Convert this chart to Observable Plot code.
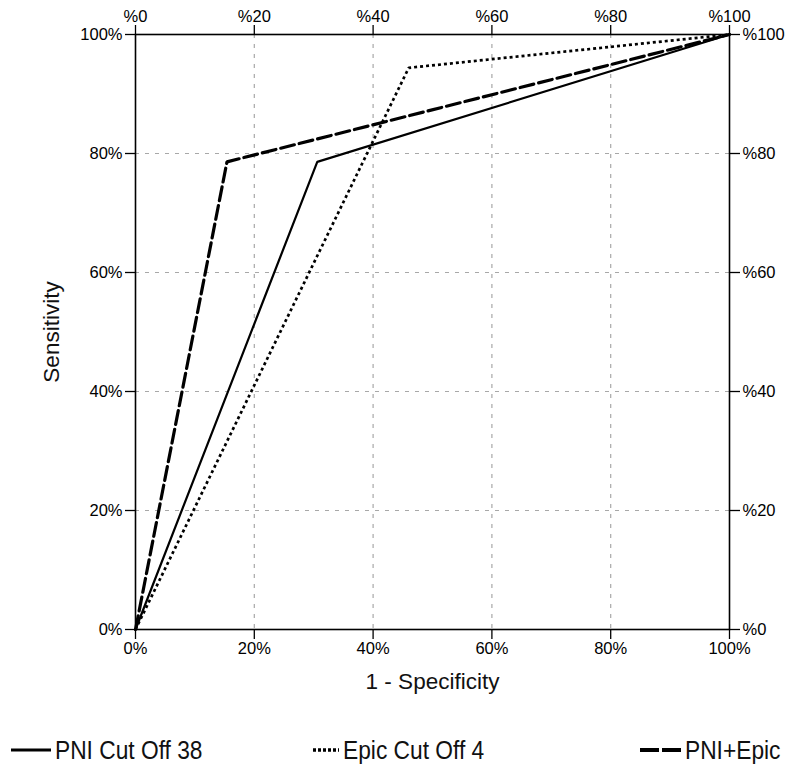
<!DOCTYPE html>
<html>
<head>
<meta charset="utf-8">
<script src="https://cdn.jsdelivr.net/npm/d3@7"></script>
<script src="https://cdn.jsdelivr.net/npm/@observablehq/plot@0.6"></script>
<style>
  html, body { margin: 0; padding: 0; background: white; }
  #wrap { width: 797px; font-family: "Liberation Sans", Arial, sans-serif; }
  #legend { position: relative; width: 797px; height: 58px; }
  .item { position: absolute; top: 20px; height: 30px; display: flex; align-items: center; }
  .item span { font-size: 25px; color: #111; display: inline-block; transform: scaleX(0.91); transform-origin: left center; white-space: nowrap; }
</style>
</head>
<body>
<div id="wrap"></div>
<script>
// ROC points: 1 - specificity (%), sensitivity (%)
const pniFpr   = [0, 30.6, 100];
const pniTpr   = [0, 78.6, 100];
const epicFpr  = [0, 46.0, 100];
const epicTpr  = [0, 94.4, 100];
const comboFpr = [0, 15.4, 100];
const comboTpr = [0, 78.6, 100];

const seriesNames = ["PNI Cut Off 38", "Epic Cut Off 4", "PNI+Epic"];
const tickValues = [0, 20, 40, 60, 80, 100];
const gridValues = [20, 40, 60, 80];

const toRows = (xs, ys) => xs.map((x, i) => ({fpr: x, tpr: ys[i]}));
const pni = toRows(pniFpr, pniTpr);
const epic = toRows(epicFpr, epicTpr);
const combo = toRows(comboFpr, comboTpr);

const styles = [
  {stroke: "black", strokeWidth: 2.2},
  {stroke: "black", strokeWidth: 2.7, strokeDasharray: "3,3"},
  {stroke: "black", strokeWidth: 3.2, strokeDasharray: "14,5"}
];

const axisCommon = {tickSize: 10, tickPadding: 3, fontSize: 16.5, strokeWidth: 1.3, label: null};

const chart = Plot.plot({
  width: 797,
  height: 715,
  marginLeft: 135,
  marginRight: 68,
  marginTop: 34,
  marginBottom: 86,
  x: {domain: [0, 100]},
  y: {domain: [0, 100]},
  style: {fontFamily: "'Liberation Sans', Arial, sans-serif", fontSize: "16px", color: "black", background: "white"},
  marks: [
    Plot.gridX(gridValues, {stroke: "#a8a8a8", strokeOpacity: 1, strokeDasharray: "4,6", strokeWidth: 1.2}),
    Plot.gridY(gridValues, {stroke: "#a8a8a8", strokeOpacity: 1, strokeDasharray: "4,6", strokeWidth: 1.2}),
    Plot.axisX(tickValues, {...axisCommon, anchor: "bottom", tickFormat: d => d + "%"}),
    Plot.axisX(tickValues, {...axisCommon, anchor: "top", tickFormat: d => "%" + d}),
    Plot.axisY(tickValues, {...axisCommon, anchor: "left", tickFormat: d => d + "%"}),
    Plot.axisY(tickValues, {...axisCommon, anchor: "right", tickFormat: d => "%" + d}),
    Plot.line(pni, {x: "fpr", y: "tpr", ...styles[0], strokeLinejoin: "miter"}),
    Plot.line(epic, {x: "fpr", y: "tpr", ...styles[1], strokeLinejoin: "miter", strokeLinecap: "butt"}),
    Plot.line(combo, {x: "fpr", y: "tpr", ...styles[2], strokeLinejoin: "miter"}),
    Plot.frame({stroke: "black", strokeWidth: 1.6}),
    Plot.text(["1 - Specificity"], {frameAnchor: "bottom", dy: 59, fontSize: 22.5, fill: "#111"}),
    Plot.text(["Sensitivity"], {frameAnchor: "left", dx: -84, rotate: -90, textAnchor: "middle", fontSize: 22.5, fill: "#111"})
  ]
});

const wrap = document.getElementById("wrap");
wrap.appendChild(chart);

// Legend below the chart
const legend = document.createElement("div");
legend.id = "legend";
const legendPos = [{line: 11, w: 40, text: 55}, {line: 313, w: 26, text: 343}, {line: 640, w: 43, text: 685}];
const legendDash = [null, "3,2", "19,3"];
seriesNames.forEach((name, i) => {
  const p = legendPos[i];
  const s = styles[i];
  const item = document.createElement("div");
  item.className = "item";
  item.style.left = p.line + "px";
  const dash = legendDash[i] ? `stroke-dasharray="${legendDash[i]}"` : "";
  const svg = `<svg width="${p.text - p.line}" height="30"><line x1="0" x2="${p.w}" y1="15" y2="15" stroke="black" stroke-width="${s.strokeWidth + 0.6}" ${dash}/></svg>`;
  item.innerHTML = svg + `<span>${name}</span>`;
  legend.appendChild(item);
});
wrap.appendChild(legend);
</script>
</body>
</html>
